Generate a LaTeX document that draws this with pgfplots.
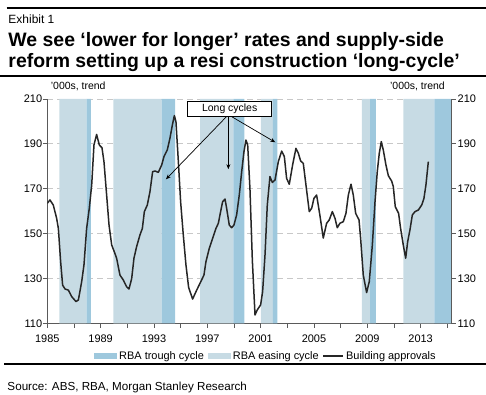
\documentclass[border=0pt]{standalone}
\usepackage{fontspec}
\setmainfont{Liberation Sans}
\usepackage{pgfplots}
\pgfplotsset{compat=1.18}
\usetikzlibrary{arrows.meta}
\definecolor{trough}{RGB}{158,200,221}
\definecolor{easing}{RGB}{199,219,228}
\definecolor{gridc}{RGB}{200,200,200}
\definecolor{axc}{RGB}{90,90,90}
\newcommand{\sfs}{\fontsize{10.5}{12}\selectfont}
\newcommand{\tfs}{\fontsize{11}{13}\selectfont}
\begin{document}
\begin{tikzpicture}
\path[use as bounding box] (0bp,0bp) rectangle (486bp,395bp);
% header
\draw[line width=1.8bp] (6.7bp,387bp) -- (486bp,387bp);
\node[anchor=base west, inner sep=0pt, font=\fontsize{12}{14}\selectfont] at (8.3bp,371.7bp) {Exhibit 1};
\node[anchor=base west, inner sep=0pt, font=\bfseries\fontsize{19.5}{21.5}\selectfont] at (8.3bp,348.7bp) {We see ‘lower for longer’ rates and supply-side};
\node[anchor=base west, inner sep=0pt, font=\bfseries\fontsize{19.5}{21.5}\selectfont] at (8.3bp,327.7bp) {reform setting up a resi construction ‘long-cycle’};
\draw[line width=1.8bp] (0bp,319bp) -- (486bp,319bp);
% footer
\draw[line width=1.8bp] (4bp,31bp) -- (486bp,31bp);
\node[anchor=base west, inner sep=0pt, font=\fontsize{11.7}{14}\selectfont] at (7.3bp,5bp) {Source: ABS, RBA, Morgan Stanley Research};

\begin{axis}[
  at={(47.3bp,71.7bp)}, anchor=south west,
  scale only axis, width=403.7bp, height=224.3bp,
  xmin=1985, xmax=2015.28, ymin=110, ymax=210,
  axis x line*=bottom, axis y line*=left,
  axis line style={axc, line width=0.8bp},
  tick align=outside, major tick length=4.5bp,
  tick style={axc, line width=0.8bp},
  xtick={1985,1987,...,2015},
  xticklabels={1985,,1989,,1993,,1997,,2001,,2005,,2009,,2013,,},
  ytick={110,130,...,210},
  ymajorgrids, grid style={gridc, dash pattern=on 6bp off 4bp, line width=0.8bp},
  tick label style={font=\tfs},
  /pgf/number format/assume math mode=true,
  /pgf/number format/1000 sep={},
  yticklabel style={inner xsep=0.5bp},
  xticklabel style={yshift=-3.5bp},
  legend columns=-1,
  legend style={at={(0.1157,-0.146)}, anchor=west, draw=none, fill=none,
    inner sep=0pt, font=\tfs,
    /tikz/every even column/.append style={column sep=2bp}},
]
% shading: trough (dark) and easing (light)
\addplot[fill=trough, draw=none, legend image code/.code={\fill[trough] (0bp,-3bp) rectangle (23bp,3bp);}]
  coordinates {(1987.94,110) (1987.94,210) (1988.26,210) (1988.26,110)} \closedcycle;
\addlegendentry{RBA trough cycle}
\addplot[fill=easing, draw=none, legend image code/.code={\fill[easing] (0bp,-3bp) rectangle (23bp,3bp);}]
  coordinates {(1985.90,110) (1985.90,210) (1987.94,210) (1987.94,110)} \closedcycle;
\addlegendentry{RBA easing cycle}
\addplot[fill=easing, draw=none, forget plot] coordinates {(1989.95,110) (1989.95,210) (1993.58,210) (1993.58,110)} \closedcycle;
\addplot[fill=trough, draw=none, forget plot] coordinates {(1993.58,110) (1993.58,210) (1994.58,210) (1994.58,110)} \closedcycle;
\addplot[fill=easing, draw=none, forget plot] coordinates {(1996.46,110) (1996.46,210) (1998.95,210) (1998.95,110)} \closedcycle;
\addplot[fill=trough, draw=none, forget plot] coordinates {(1998.95,110) (1998.95,210) (1999.78,210) (1999.78,110)} \closedcycle;
\addplot[fill=easing, draw=none, forget plot] coordinates {(2001.01,110) (2001.01,210) (2001.91,210) (2001.91,110)} \closedcycle;
\addplot[fill=trough, draw=none, forget plot] coordinates {(2001.91,110) (2001.91,210) (2002.25,210) (2002.25,110)} \closedcycle;
\addplot[fill=easing, draw=none, forget plot] coordinates {(2008.59,110) (2008.59,210) (2009.21,210) (2009.21,110)} \closedcycle;
\addplot[fill=trough, draw=none, forget plot] coordinates {(2009.21,110) (2009.21,210) (2009.64,210) (2009.64,110)} \closedcycle;
\addplot[fill=easing, draw=none, forget plot] coordinates {(2011.70,110) (2011.70,210) (2014.03,210) (2014.03,110)} \closedcycle;
\addplot[fill=trough, draw=none, forget plot] coordinates {(2014.03,110) (2014.03,210) (2015.28,210) (2015.28,110)} \closedcycle;
% building approvals
\addplot[color=black!85, line width=1.5bp, line join=round, mark=none,
  legend image code/.code={\draw[black!85, line width=1.4bp] (0bp,0bp) -- (20bp,0bp);}]
  table {
1985.00 163.5
1985.20 165.0
1985.45 162.7
1985.70 156.8
1985.83 152.3
1986.00 137.5
1986.15 127.0
1986.33 125.3
1986.58 124.8
1986.83 121.9
1987.15 119.7
1987.33 120.4
1987.58 128.6
1987.75 136.0
1987.95 152.3
1988.15 161.3
1988.33 171.7
1988.50 189.5
1988.70 194.2
1988.90 189.5
1989.10 188.3
1989.25 182.1
1989.45 167.2
1989.63 153.8
1989.83 144.9
1990.05 141.5
1990.20 139.0
1990.45 131.5
1990.70 129.3
1990.95 126.3
1991.13 125.3
1991.33 130.0
1991.50 139.0
1991.70 144.2
1991.95 149.4
1992.13 152.3
1992.28 159.8
1992.50 162.7
1992.70 168.7
1992.90 177.6
1993.08 177.9
1993.33 177.3
1993.58 180.6
1993.75 184.3
1994.00 187.3
1994.20 192.5
1994.38 198.4
1994.53 202.6
1994.65 199.9
1994.83 182.1
1995.00 164.2
1995.20 149.4
1995.40 136.0
1995.60 126.0
1995.90 120.8
1996.15 124.1
1996.45 127.8
1996.75 131.5
1996.90 137.5
1997.15 143.4
1997.40 147.9
1997.65 152.3
1997.83 154.6
1998.00 159.8
1998.15 164.2
1998.33 165.4
1998.45 161.3
1998.65 153.8
1998.83 152.6
1999.00 153.8
1999.20 158.3
1999.40 167.2
1999.58 177.6
1999.75 186.5
1999.90 191.7
2000.03 189.5
2000.20 170.0
2000.38 138.0
2000.58 113.7
2000.75 116.0
2001.00 118.2
2001.15 124.1
2001.33 140.5
2001.50 162.7
2001.70 175.4
2001.88 172.8
2002.08 173.9
2002.33 182.1
2002.58 186.8
2002.78 184.3
2002.95 174.6
2003.15 172.0
2003.40 180.6
2003.65 188.0
2003.83 185.8
2004.00 182.4
2004.20 181.3
2004.40 171.7
2004.65 159.8
2004.83 161.3
2005.00 165.7
2005.20 167.2
2005.45 158.0
2005.70 148.0
2005.95 154.6
2006.15 156.1
2006.38 159.8
2006.58 156.8
2006.75 152.6
2006.95 154.6
2007.20 155.3
2007.40 159.0
2007.58 167.2
2007.78 172.0
2007.95 167.2
2008.13 159.0
2008.38 156.1
2008.50 147.9
2008.70 131.5
2008.95 123.7
2009.15 128.6
2009.38 144.9
2009.58 164.2
2009.75 177.6
2009.90 185.8
2010.05 191.0
2010.20 187.3
2010.40 180.6
2010.58 175.8
2010.83 173.4
2010.95 171.0
2011.10 162.0
2011.35 159.0
2011.50 152.3
2011.70 144.9
2011.88 139.0
2012.03 146.4
2012.20 151.6
2012.38 158.3
2012.58 159.8
2012.83 160.5
2013.08 162.7
2013.25 165.7
2013.40 171.7
2013.58 182.1
};
\addlegendentry{Building approvals}
% annotation
\draw[-{Stealth[length=5bp,width=4bp]}, line width=0.7bp] (axis cs:1998.58,203) -- (axis cs:1993.9,174.2);
\draw[-{Stealth[length=5bp,width=4bp]}, line width=0.7bp] (axis cs:1998.58,203) -- (axis cs:1998.58,178.7);
\draw[-{Stealth[length=5bp,width=4bp]}, line width=0.7bp] (axis cs:1998.58,203) -- (axis cs:2002.1,190.7);
\node[draw=black, fill=white, line width=0.6bp, minimum width=84bp, minimum height=14.3bp, inner sep=0pt, font=\sfs] at (axis cs:1998.68,205.6) {Long cycles};
\end{axis}

\begin{axis}[
  at={(47.3bp,71.7bp)}, anchor=south west,
  scale only axis, width=403.7bp, height=224.3bp,
  xmin=1985, xmax=2015.28, ymin=110, ymax=210,
  axis y line*=right, axis x line=none,
  axis line style={axc, line width=0.8bp},
  tick align=outside, major tick length=4.5bp,
  tick style={axc, line width=0.8bp},
  ytick={110,130,...,210},
  tick label style={font=\tfs},
  /pgf/number format/assume math mode=true,
  yticklabel style={inner xsep=2bp},
]
\end{axis}
\node[anchor=base west, inner sep=0pt, font=\sfs] at (50.7bp,305bp) {'000s, trend};
\node[anchor=base east, inner sep=0pt, font=\sfs] at (445bp,305bp) {'000s, trend};
\end{tikzpicture}
\end{document}
